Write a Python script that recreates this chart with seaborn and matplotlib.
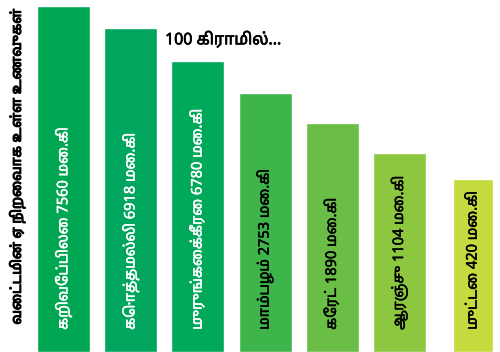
import matplotlib
matplotlib.use("Agg")
import matplotlib.pyplot as plt
import matplotlib.patheffects as pe
import seaborn as sns
import pandas as pd

# foods, vitamin A content (micrograms per 100 g) as printed on the bars
foods = ["கறிவேப்பிலை", "கொத்தமல்லி", "முருங்கைக்கீரை", "மாம்பழம்",
         "கேரட்", "ஆரஞ்சு", "முட்டை"]
values = [7560, 6918, 6780, 2753, 1890, 1104, 420]
unit = "மை.கி"
# the infographic bars are a staircase, not to scale: heights (%)
bar_heights = [98.3, 92.0, 82.7, 73.6, 65.1, 56.5, 49.1]
colors = ["#00A651", "#00A55E", "#00A859", "#3DB54A", "#6ABD45", "#8DC63F", "#C5DA3C"]
text_colors = ["white", "white", "white", "black", "black", "black", "black"]

side_title = "வைட்டமின் ஏ நிறைவாக உள்ள உணவுகள்"
top_title = "100 கிராமில்..."

sns.set_theme(style="white")
plt.rcParams['font.family'] = ['Noto Sans Tamil', 'DejaVu Sans']

df = pd.DataFrame({'food': foods, 'height': bar_heights})

fig = plt.figure(figsize=(5, 3.52), dpi=100)
ax = fig.add_axes([0, 0, 1, 1])
sns.barplot(data=df, x='food', y='height', hue='food', palette=colors,
            legend=False, width=0.79, saturation=1, ax=ax)
ax.set_xlim(-0.945, 6.496)
ax.set_ylim(0, 100)
ax.axis('off')

# last bar (egg) is drawn narrower in the original, right edge kept
last = ax.containers[-1][0]
right = last.get_x() + last.get_width()
last.set_width(0.6)
last.set_x(right - 0.6)

bars = [c[0] for c in ax.containers]
for i, (food, val) in enumerate(zip(foods, values)):
    b = bars[i]
    ax.text(b.get_x() + b.get_width() / 2, 6.3, f"{food} {val} {unit}",
            rotation=90, ha='center', va='bottom', color=text_colors[i], fontsize=10.5,
            path_effects=[pe.withStroke(linewidth=0.35, foreground=text_colors[i])])

fig.text(0.034, 0.527, side_title, rotation=90, ha='center', va='center',
         fontsize=10, color='black',
         path_effects=[pe.withStroke(linewidth=0.8, foreground='black')])
fig.text(0.33, 0.886, top_title, ha='left', va='center', fontsize=11.5,
         color='black', path_effects=[pe.withStroke(linewidth=0.5, foreground='black')])

fig.savefig("out.png", dpi=100)
